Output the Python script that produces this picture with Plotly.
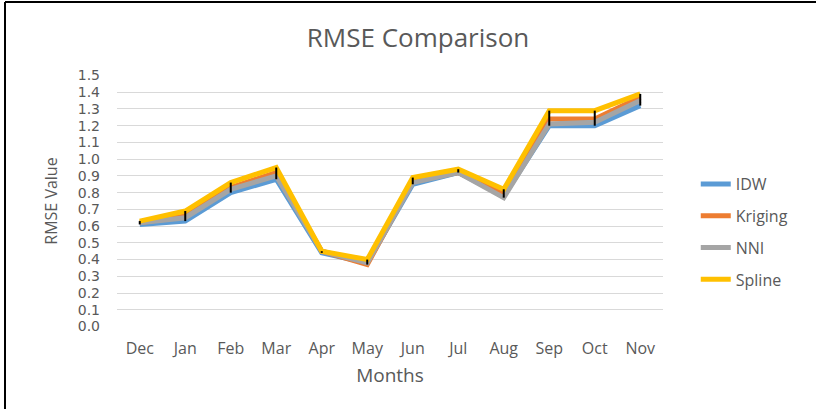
import plotly.graph_objects as go

months = ["Dec", "Jan", "Feb", "Mar", "Apr", "May", "Jun", "Jul", "Aug", "Sep", "Oct", "Nov"]
idw = [0.61, 0.63, 0.80, 0.88, 0.44, 0.38, 0.85, 0.92, 0.78, 1.20, 1.20, 1.32]
kriging = [0.62, 0.66, 0.83, 0.92, 0.45, 0.37, 0.87, 0.92, 0.80, 1.24, 1.24, 1.37]
nni = [0.62, 0.65, 0.82, 0.90, 0.45, 0.38, 0.86, 0.92, 0.77, 1.21, 1.22, 1.35]
spline = [0.63, 0.69, 0.86, 0.95, 0.45, 0.40, 0.89, 0.94, 0.82, 1.29, 1.29, 1.39]
y_ticks = [round(i * 0.1, 1) for i in range(16)]

series = [("IDW", idw, "#5B9BD5"), ("Kriging", kriging, "#ED7D31"),
          ("NNI", nni, "#A5A5A5"), ("Spline", spline, "#FFC000")]

FONT = "Open Sans"
GREY = "#595959"

fig = go.Figure()
for name, vals, color in series:
    fig.add_trace(go.Scatter(x=months, y=vals, name=name, mode="lines",
                             line=dict(color=color, width=5), legendgroup=name))

# high-low lines
hx, hy = [], []
for i, m in enumerate(months):
    vals = [s[1][i] for s in series]
    hx += [m, m, None]
    hy += [min(vals), max(vals), None]
fig.add_trace(go.Scatter(x=hx, y=hy, mode="lines", line=dict(color="black", width=2),
                         showlegend=False, hoverinfo="skip"))

fig.update_layout(
    width=816, height=409,
    margin=dict(l=117, r=153, t=75, b=82),
    paper_bgcolor="white", plot_bgcolor="white",
    font=dict(family=FONT, color=GREY, size=15),
    title=dict(text="RMSE Comparison", x=418 / 816, xanchor="center",
               y=1 - 38 / 409, yanchor="middle", font=dict(size=26, color=GREY, family=FONT)),
    legend=dict(x=1.06, xanchor="left", y=0.377, yanchor="middle",
                font=dict(size=16, color=GREY), tracegroupgap=8, bgcolor="rgba(0,0,0,0)"),
    xaxis=dict(type="category", categoryorder="array", categoryarray=months,
               range=[-0.5, 11.5], automargin=False,
               showgrid=False, showline=False, ticks="", tickfont=dict(size=16, color=GREY),
               ticklabelstandoff=10,
               title=dict(text="Months", font=dict(size=19, color=GREY), standoff=10)),
    yaxis=dict(range=[-0.003, 1.503], tickvals=y_ticks, ticktext=[f"{v:.1f}" for v in y_ticks],
               automargin=False,
               showgrid=True, gridcolor="#D9D9D9", gridwidth=1, zeroline=False, showline=False,
               ticks="", tickfont=dict(size=14, color=GREY, family="DejaVu Sans"),
               ticklabelstandoff=16,
               title=dict(text="RMSE Value", font=dict(size=16, color=GREY), standoff=16)),
    shapes=[
        dict(type="line", xref="paper", yref="paper", x0=(5 - 117) / 546, x1=1.5,
             y0=1 + (75 - 2) / 252, y1=1 + (75 - 2) / 252, line=dict(color="black", width=2)),
        dict(type="line", xref="paper", yref="paper", x0=(5 - 117) / 546, x1=(5 - 117) / 546,
             y0=1 + (75 - 2) / 252, y1=-0.5, line=dict(color="black", width=2)),
    ],
)

fig.write_html("out.html", config={"displayModeBar": False},
               post_script="document.body.style.margin='0';document.body.style.overflow='hidden';")
